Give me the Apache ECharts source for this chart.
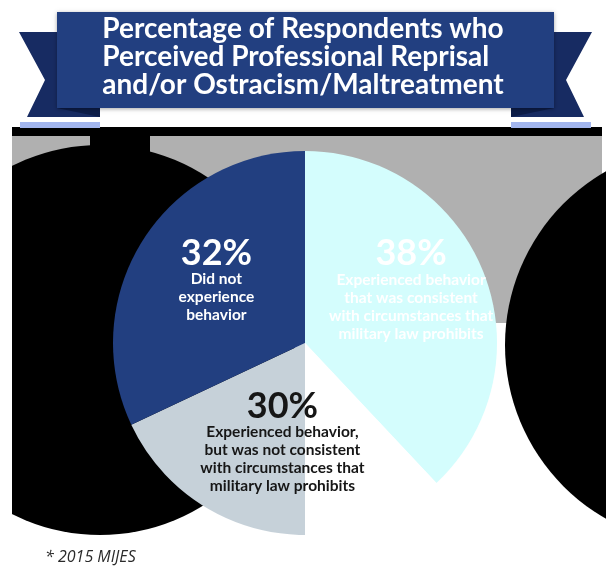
<!DOCTYPE html>
<html>
<head>
<meta charset="utf-8">
<script src="https://cdn.jsdelivr.net/npm/echarts@6/dist/echarts.min.js"></script>
<style>
html,body{margin:0;padding:0;background:#ffffff;}
#chart{width:606px;height:566px;}
</style>
</head>
<body>
<div id="chart"></div>
<script>
// ---- data ----
const titleLines = ['Percentage of Respondents who', 'Perceived Professional Reprisal', 'and/or Ostracism/Maltreatment'];
const categories = [
  'Experienced behavior that was consistent with circumstances that military law prohibits',
  'Experienced behavior, but was not consistent with circumstances that military law prohibits',
  'Did not experience behavior'
];
const values = [38, 30, 32];
const labelLines = [
  ['Experienced behavior', 'that was consistent', 'with circumstances that', 'military law prohibits'],
  ['Experienced behavior,', 'but was not consistent', 'with circumstances that', 'military law prohibits'],
  ['Did not', 'experience', 'behavior']
];
const footnote = '* 2015 MIJES';

// ---- styling ----
const navy = '#223f80';
const tailNavy = '#172b62';
const sliceColors = ['#d4fdfd', null, navy];
const labelColors = ['#ffffff', '#161616', '#ffffff'];
const labelOffsets = [[14, -17], [-4, 2], [-5, -10]];

// gradient for the middle slice: grey left of the pie centre, white to the right
const total = values.reduce((a, b) => a + b, 0);
const a1 = values[0] / total * 2 * Math.PI;
const a2 = (values[0] + values[1]) / total * 2 * Math.PI;
let xs = [0, Math.sin(a1), Math.sin(a2)];
for (let k = 0; k < 4; k++) { const a = k * Math.PI / 2; if (a > a1 && a < a2) xs.push(Math.sin(a)); }
const minX = Math.min(...xs), maxX = Math.max(...xs);
const f = (0 - minX) / (maxX - minX);
sliceColors[1] = {
  type: 'linear', x: 0, y: 0, x2: 1, y2: 0,
  colorStops: [
    { offset: 0, color: '#c6d1d9' }, { offset: f, color: '#c6d1d9' },
    { offset: f, color: '#ffffff' }, { offset: 1, color: '#ffffff' }
  ]
};

const chart = echarts.init(document.getElementById('chart'));
const option = {
  backgroundColor: '#ffffff',
  animation: false,
  graphic: [
    // background artefacts
    { type: 'rect', z: -20, shape: { x: 12, y: 133, width: 590, height: 190 }, style: { fill: '#b0b0b0' } },
    { type: 'rect', z: -19, shape: { x: 12, y: 127, width: 590, height: 9 }, style: { fill: '#000000' } },
    { type: 'rect', z: -19, shape: { x: 20, y: 122, width: 80, height: 6 }, style: { fill: '#a3b6ee' } },
    { type: 'rect', z: -19, shape: { x: 511, y: 122, width: 80, height: 6 }, style: { fill: '#a3b6ee' } },
    { type: 'circle', z: -18, shape: { cx: 100, cy: 340, r: 195 }, style: { fill: '#000000' } },
    { type: 'rect', z: -18, shape: { x: 90, y: 133, width: 60, height: 60 }, style: { fill: '#000000' } },
    { type: 'circle', z: -18, shape: { cx: 705, cy: 345, r: 200 }, style: { fill: '#000000' } },
    { type: 'rect', z: 50, shape: { x: 0, y: 118, width: 12, height: 448 }, style: { fill: '#ffffff' } },
    // banner
    { type: 'polygon', z: 10, shape: { points: [[19, 32], [100, 32], [100, 117], [27, 117], [45, 80]] }, style: { fill: tailNavy } },
    { type: 'polygon', z: 10, shape: { points: [[592, 32], [511, 32], [511, 117], [584, 117], [566, 80]] }, style: { fill: tailNavy } },
    { type: 'polygon', z: 11, shape: { points: [[57, 108], [100, 108], [100, 117]] }, style: { fill: '#0c1c48' } },
    { type: 'polygon', z: 11, shape: { points: [[554, 108], [511, 108], [511, 117]] }, style: { fill: '#0c1c48' } },
    { type: 'rect', z: 12, shape: { x: 57, y: 12, width: 497, height: 96 }, style: { fill: navy, shadowBlur: 4, shadowColor: 'rgba(0,0,0,0.35)', shadowOffsetY: 1 } },
    { type: 'text', z: 13, left: 'center', top: 15,
      style: { text: titleLines.join('\n'), fill: '#ffffff', font: 'bold 28px Lato', lineHeight: 28, align: 'center' } },
    { type: 'text', z: 13, left: 45, top: 549,
      style: { text: footnote, fill: '#2a2a2a', font: 'italic 16px "Liberation Sans Narrow", "Open Sans"' } }
  ],
  series: [{
    type: 'pie',
    z: 2,
    center: [305, 343],
    radius: 192,
    startAngle: 90,
    clockwise: true,
    silent: true,
    itemStyle: { borderWidth: 0 },
    label: {
      show: true,
      position: 'inside',
      formatter: function (p) {
        return '{pct|' + p.value + '%}\n{txt|' + labelLines[p.dataIndex].join('\n') + '}';
      },
      rich: {
        pct: { fontFamily: 'Lato', fontWeight: 'bold', fontSize: 36, lineHeight: 34 },
        txt: { fontFamily: 'Lato', fontWeight: 'bold', fontSize: 15.5, lineHeight: 18 }
      }
    },
    labelLine: { show: false },
    data: categories.map((c, i) => ({
      name: c,
      value: values[i],
      itemStyle: { color: sliceColors[i] },
      label: { color: labelColors[i], offset: labelOffsets[i], rich: { pct: { color: labelColors[i] }, txt: { color: labelColors[i] } } }
    }))
  }]
};
chart.setOption(option);
</script>
</body>
</html>
